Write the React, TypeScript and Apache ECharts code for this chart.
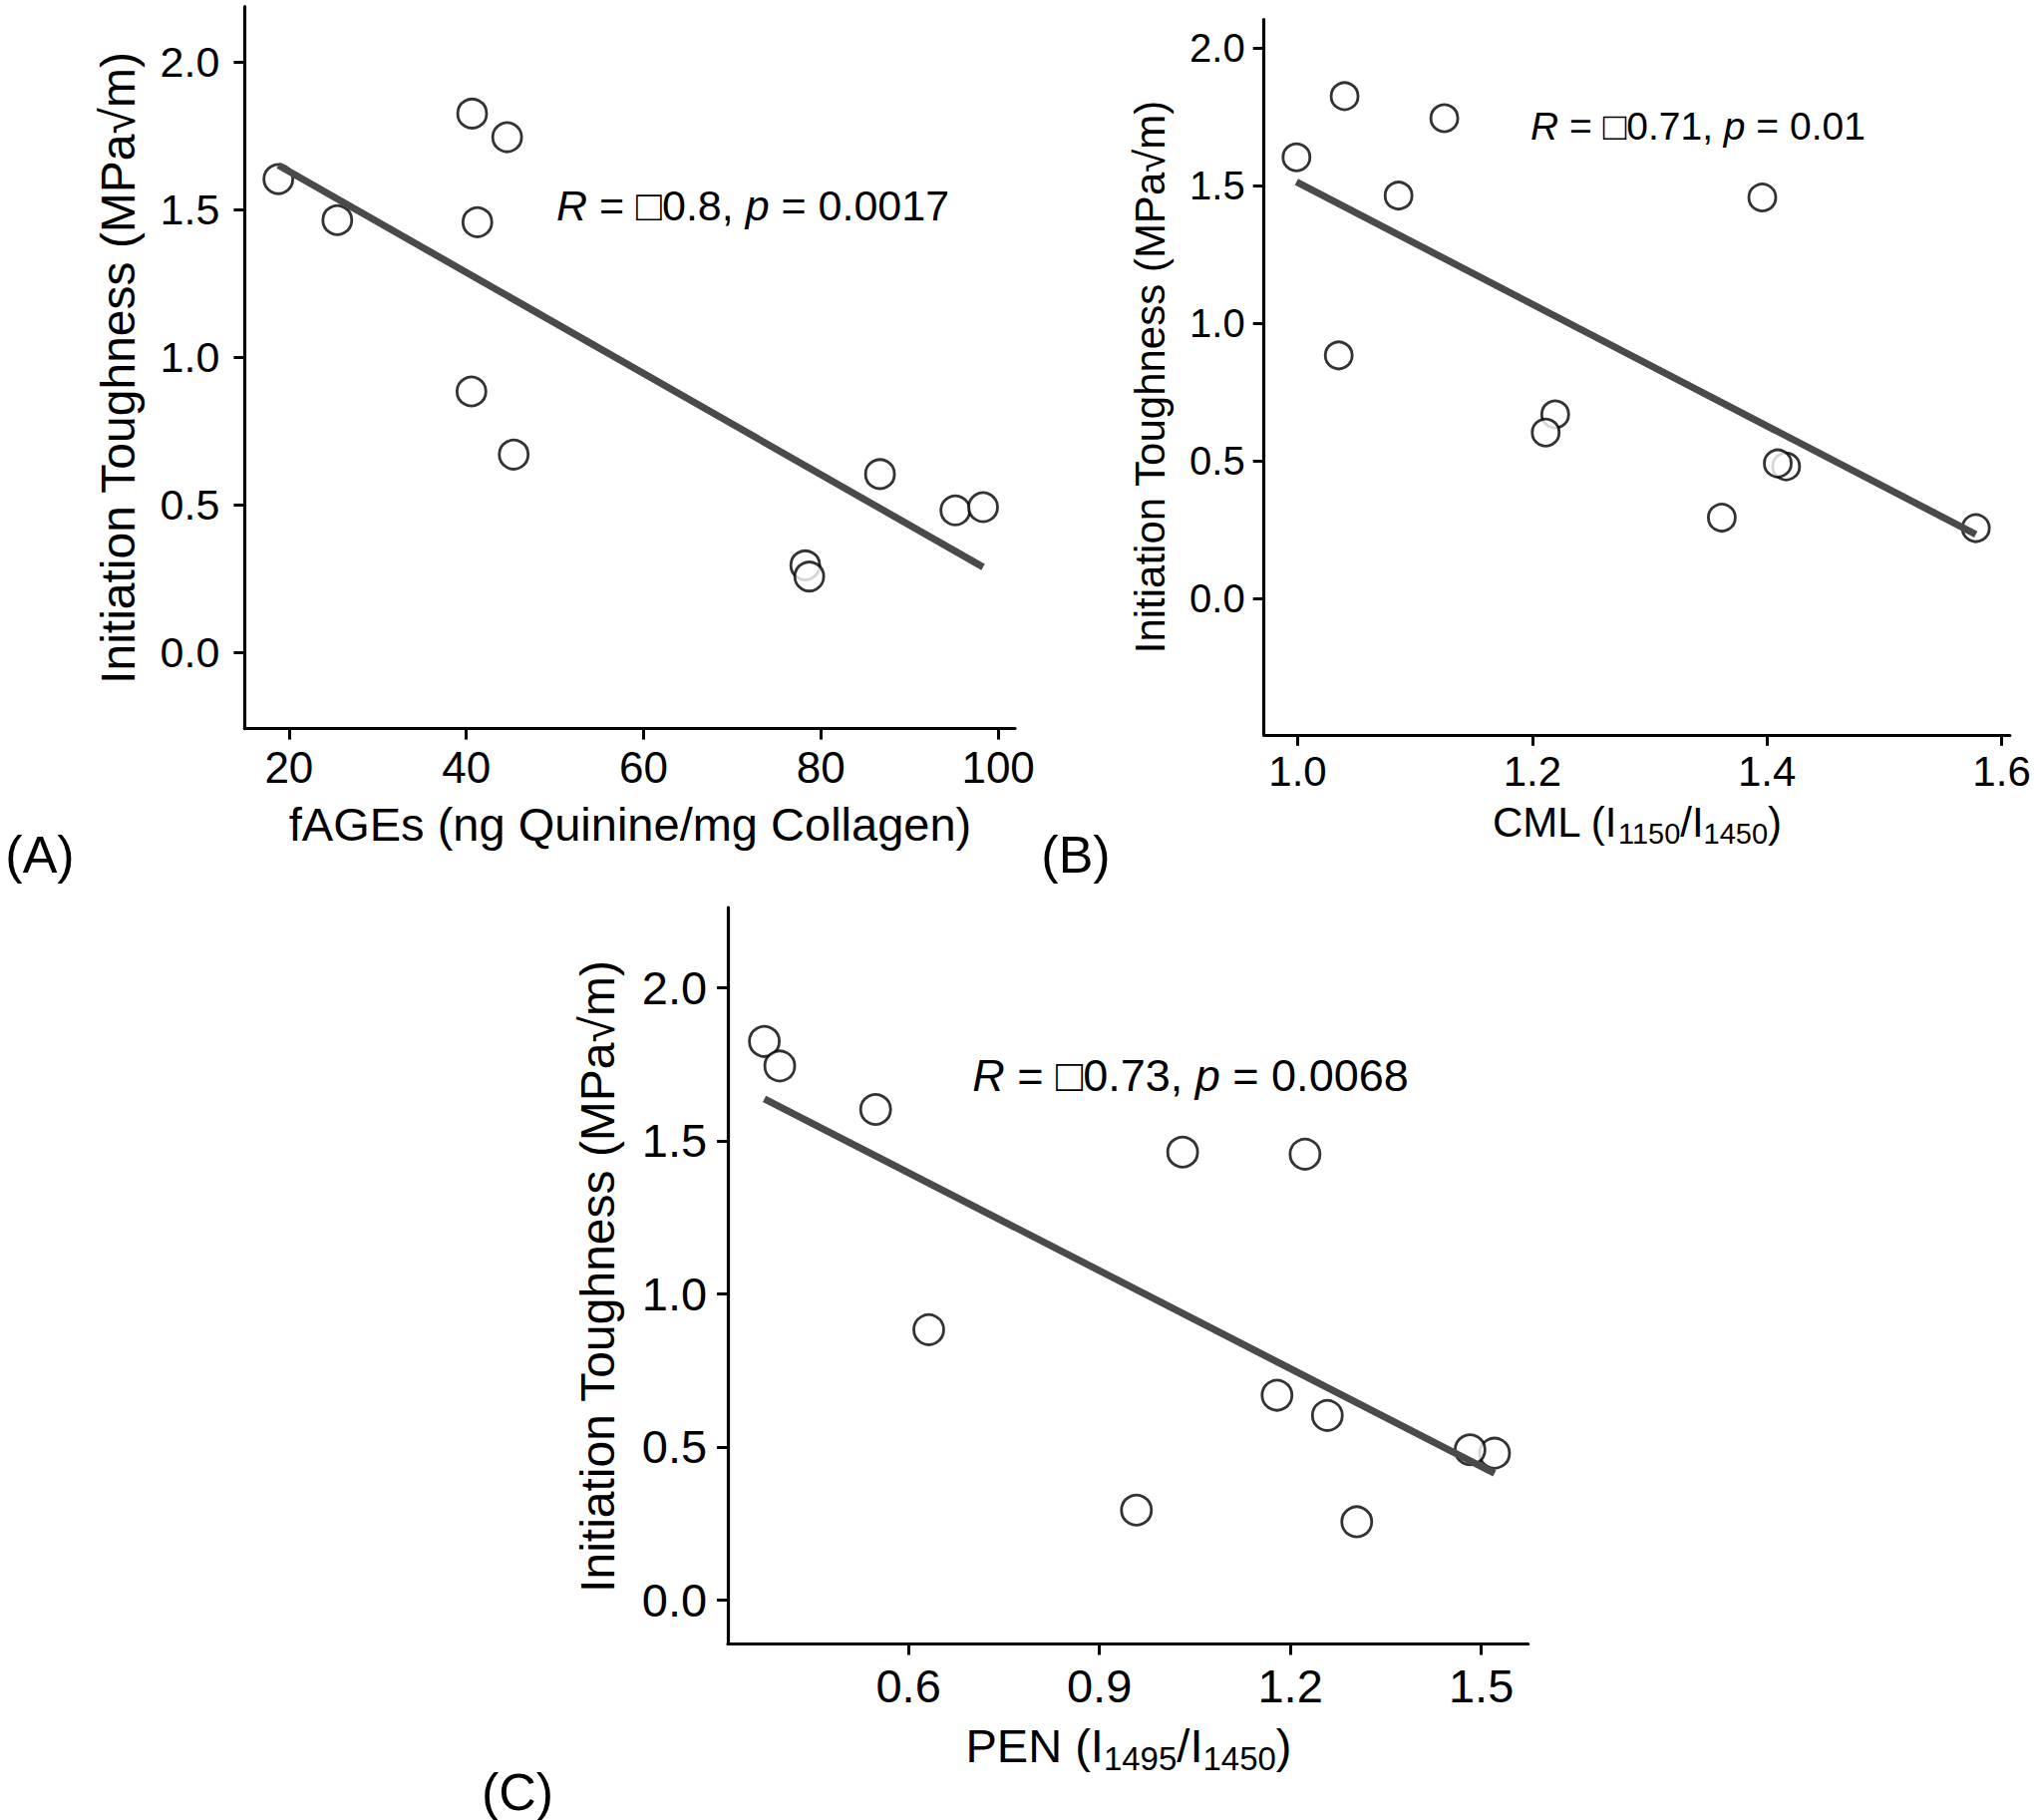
import React, { useEffect, useRef } from "react";
import * as echarts from "echarts";

// ---- data ----
const toughness = [1.602, 1.463, 1.824, 1.744, 1.456, 0.883, 0.669, 0.603, 0.294, 0.256, 0.48, 0.491];
const fAGEs = [18.8, 25.45, 40.66, 44.61, 41.25, 40.58, 45.35, 86.67, 78.24, 78.69, 95.17, 98.3];
const cml = [0.999, 1.086, 1.04, 1.125, 1.396, 1.035, 1.2195, 1.2114, 1.3615, 1.578, 1.4163, 1.4092];
const pen = [0.5484, 1.0308, 0.3736, 0.3978, 1.2231, 0.6319, 1.1791, 1.2582, 0.9582, 1.3044, 1.5209, 1.4824];

const fitA = [[18.8, 1.649], [98.3, 0.288]];
const fitB = [[0.999, 1.513], [1.578, 0.2335]];
const fitC = [[0.3736, 1.637], [1.5209, 0.414]];

const ticksAx = [20, 40, 60, 80, 100];
const ticksBx = [1.0, 1.2, 1.4, 1.6];
const ticksCx = [0.6, 0.9, 1.2, 1.5];
const ticksY = [0, 0.5, 1.0, 1.5, 2.0];

const titleAx = "fAGEs (ng Quinine/mg Collagen)";
const titleY = "Initiation Toughness (MPa\u221Am)";
// pieces: [text, isSubscript]
const titleBx: [string, boolean][] = [["CML (I", false], ["1150", true], ["/I", false], ["1450", true], [")", false]];
const titleCx: [string, boolean][] = [["PEN (I", false], ["1495", true], ["/I", false], ["1450", true], [")", false]];
const annA = "{i|R} = \u25A10.8, {i|p} = 0.0017";
const annB = "{i|R} = \u25A10.71, {i|p} = 0.01";
const annC = "{i|R} = \u25A10.73, {i|p} = 0.0068";

const FONT_NAME = "Liberation Sans";
const FONT = "'Liberation Sans', Arial, Helvetica, sans-serif";

function pairs(xs: number[], ys: number[]) {
  return xs.map((x, i) => [x, ys[i]]);
}

function xAxis(gi: number, min: number, max: number, ticks: number[], dec: number, fs: number, margin: number) {
  return {
    type: "value",
    gridIndex: gi,
    min,
    max,
    axisLine: { show: true, onZero: false, lineStyle: { color: "#000", width: 3.2 } },
    axisTick: { show: true, length: 11, lineStyle: { color: "#000", width: 3 }, customValues: ticks },
    axisLabel: {
      customValues: ticks,
      formatter: (v: number) => v.toFixed(dec),
      fontSize: fs,
      color: "#000",
      fontFamily: FONT,
      margin,
    },
    splitLine: { show: false },
  };
}

function yAxis(gi: number, min: number, max: number, fs: number, margin: number) {
  return {
    type: "value",
    gridIndex: gi,
    min,
    max,
    axisLine: { show: true, onZero: false, lineStyle: { color: "#000", width: 3.2 } },
    axisTick: { show: true, length: 11, lineStyle: { color: "#000", width: 3 }, customValues: ticksY },
    axisLabel: {
      customValues: ticksY,
      formatter: (v: number) => v.toFixed(1),
      fontSize: fs,
      color: "#000",
      fontFamily: FONT,
      margin,
    },
    splitLine: { show: false },
  };
}

function scatter(gi: number, xs: number[], size: number) {
  return {
    type: "scatter",
    xAxisIndex: gi,
    yAxisIndex: gi,
    data: pairs(xs, toughness),
    symbol: "circle",
    symbolSize: size,
    itemStyle: { color: "#fff", borderColor: "#000", borderWidth: 2.8 },
    z: 2,
    silent: true,
  };
}

function fit(gi: number, d: number[][]) {
  return {
    type: "line",
    xAxisIndex: gi,
    yAxisIndex: gi,
    data: d,
    symbol: "none",
    lineStyle: { color: "#4a4a4a", width: 7, cap: "butt" },
    z: 3,
    silent: true,
  };
}

function txt(x: number, y: number, text: string, fs: number, rot = 0, rich?: any, align = "center") {
  return {
    type: "text",
    x,
    y,
    rotation: rot,
    z: 10,
    silent: true,
    style: {
      text,
      fontSize: fs,
      fontFamily: FONT,
      fill: "#000",
      align,
      verticalAlign: "middle",
      textAlign: align,
      textVerticalAlign: "middle",
      rich,
    },
  };
}

function italRich(fs: number) {
  return { i: { fontSize: fs, fontFamily: FONT, fontStyle: "italic", fill: "#000" } };
}

// title with subscripts: pieces placed side by side using measured widths
function subTitle(cx: number, cy: number, pieces: [string, boolean][], fs: number, sfs: number, drop: number) {
  const ctx = document.createElement("canvas").getContext("2d") as CanvasRenderingContext2D;
  const widths = pieces.map(([t, s]) => {
    ctx.font = `${s ? sfs : fs}px '${FONT_NAME}'`;
    return ctx.measureText(t).width;
  });
  const total = widths.reduce((a, b) => a + b, 0);
  let x = cx - total / 2;
  // central baseline ~0.3465em above alphabetic baseline
  const mainBase = 0.3465 * fs;
  const subY = mainBase + drop - 0.3465 * sfs;
  const els: any[] = [];
  pieces.forEach(([t, s], i) => {
    els.push(txt(x, cy + (s ? subY : 0), t, s ? sfs : fs, 0, undefined, "left"));
    x += widths[i];
  });
  return els;
}

export default function App() {
  const ref = useRef<HTMLDivElement>(null);
  useEffect(() => {
    if (!ref.current) return;
    const chart = echarts.init(ref.current, null, { renderer: "svg" });
    chart.setOption({
      animation: false,
      backgroundColor: "#fff",
      grid: [
        { left: 245.4, top: 6.7, width: 772.6, height: 723.9 },
        { left: 1267.7, top: 19.6, width: 748.1, height: 717.2 },
        { left: 730.1, top: 910.1, width: 802.5, height: 738.4 },
      ],
      xAxis: [
        xAxis(0, 15.0, 101.9, ticksAx, 0, 44, 17),
        xAxis(1, 0.9713, 1.607, ticksBx, 1, 42, 16),
        xAxis(2, 0.3164, 1.5736, ticksCx, 1, 47, 18),
      ],
      yAxis: [
        yAxis(0, -0.259, 2.186, 43, 25),
        yAxis(1, -0.494, 2.102, 40, 19),
        yAxis(2, -0.143, 2.261, 47, 21),
      ],
      series: [
        scatter(0, fAGEs, 29),
        fit(0, fitA),
        scatter(1, cml, 27),
        fit(1, fitB),
        scatter(2, pen, 30),
        fit(2, fitC),
      ],
      graphic: [
        txt(632, 826, titleAx, 47),
        txt(118, 369, titleY, 48, Math.PI / 2),
        ...subTitle(1642, 824, titleBx, 42, 29, 7.5),
        txt(1153, 378, titleY, 42, Math.PI / 2),
        ...subTitle(1132, 1750, titleCx, 47, 33, 8.3),
        txt(599, 1280, titleY, 48, Math.PI / 2),
        txt(755, 206, annA, 43, 0, italRich(43)),
        txt(1703, 126, annB, 39, 0, italRich(39)),
        txt(1194, 1078, annC, 45, 0, italRich(45)),
        txt(40, 857, "(A)", 52),
        txt(1079, 857, "(B)", 52),
        txt(519, 1797, "(C)", 52),
      ],
    });
    return () => chart.dispose();
  }, []);
  return (
    <div
      ref={ref}
      style={{ position: "absolute", left: 0, top: 0, width: 2040, height: 1825, background: "#fff" }}
    />
  );
}
